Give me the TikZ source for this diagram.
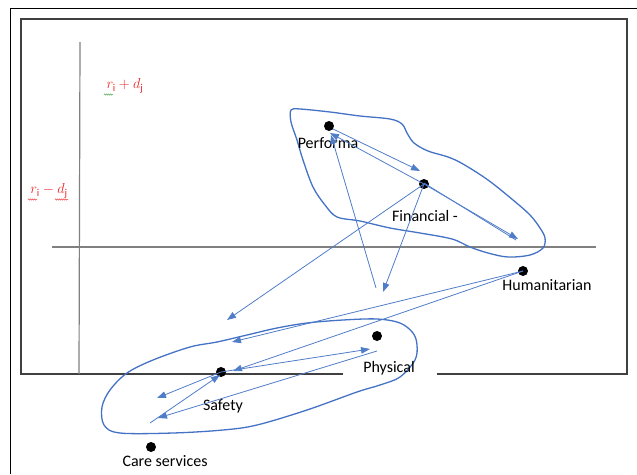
\documentclass[tikz,border=0pt]{standalone}
\usepackage{fontspec}
\setmainfont{Carlito}
\usetikzlibrary{arrows.meta,decorations.pathmorphing}
\definecolor{blob}{RGB}{68,114,196}
\definecolor{arr}{RGB}{80,125,200}
\definecolor{axisgray}{RGB}{128,128,128}
\definecolor{framegray}{RGB}{64,64,64}
\definecolor{lbred}{RGB}{235,40,40}
\definecolor{spellgreen}{RGB}{60,160,60}
\tikzset{
  dot/.style={circle,fill=black,inner sep=0pt,minimum size=10pt},
  lbl/.style={inner sep=0pt,font=\fontsize{16}{19}\selectfont},
  mlbl/.style={inner sep=0pt,text=lbred,font=\fontsize{15}{17}\selectfont},
  arrowline/.style={draw=arr,line width=0.8pt,-{Triangle[length=9pt,width=6.5pt]}},
  plainline/.style={draw=arr,line width=0.8pt},
  blobline/.style={draw=blob,line width=1.3pt},
  wavy/.style={decorate,decoration={snake,segment length=2pt,amplitude=0.6pt},line width=0.5pt}
}
\begin{document}
\begin{tikzpicture}[x=1pt,y=-1pt]
\useasboundingbox (0,0) rectangle (637,474);
% outer frame
\draw[black,line width=1pt] (10,474) -- (10,8) -- (637,8);
% inner frame
\draw[framegray,line width=1.6pt] (343,374) -- (21,374) -- (21,19) -- (627,19) -- (627,374) -- (437,374);
% axes
\draw[axisgray,line width=1.2pt] (80,42) -- (79,374);
\draw[axisgray,line width=1.2pt] (52,247) -- (596,247);
% axis labels
\node[mlbl] (lp) at (125,86) {$r_{\mathrm{i}}+d_{\mathrm{j}}$};
\node[mlbl] (lm) at (49,191) {$r_{\mathrm{i}}-d_{\mathrm{j}}$};
\draw[wavy,spellgreen] (104,94.5) -- (113,94.5);
\draw[wavy,lbred] (28,199.5) -- (37,199.5);
\draw[wavy,lbred] (55,199.5) -- (68,199.5);
% blobs
\draw[blobline] plot[smooth cycle,tension=0.55] coordinates {
 (291,110) (300,109) (330,112) (360,116) (390,119) (402,124) (407,133)
 (414,143) (428,151) (448,157) (463,164) (488,180) (513,200) (530,215)
 (540,228) (545,238) (543,248) (530,255) (508,257) (488,253) (470,247)
 (452,239) (420,233) (390,228) (360,221) (337,217) (325,205) (313,187)
 (303,160) (297,140) (291,122)};
\draw[blobline] plot[smooth cycle,tension=0.55] coordinates {
 (377,319) (400,323) (413,333) (417,345) (415,360) (400,377) (380,385)
 (357,392) (307,410) (257,425) (223,430) (173,433) (120,433) (104,425)
 (102,407) (110,390) (127,373) (153,360) (190,347) (217,342) (247,335)
 (277,328) (307,323) (343,320)};
% points
\node[dot] (P) at (329,126) {};
\node[dot] (F) at (424,184) {};
\node[dot] (H) at (523,271) {};
\node[dot] (Ph) at (377,336) {};
\node[dot] (S) at (221,372) {};
\node[dot] (C) at (151,447) {};
% labels
\node[lbl] (Pl) at (328,143) {Performa};
\node[lbl] (Fl) at (425,216) {Financial -};
\node[lbl] (Hl) at (547,285) {Humanitarian};
\node[lbl] (Phl) at (389,368) {Physical};
\node[lbl] (Sl) at (223,406) {Safety};
\node[lbl] (Cl) at (165,461) {Care services};
% connector end points
\coordinate (pStart) at (333,129);
\coordinate (tF1) at (420,171);
\coordinate (tP1) at (330,133);
\coordinate (tP2) at (331,135);
\coordinate (free1) at (376,288);
\coordinate (t1) at (383,292);
\coordinate (t2) at (227,320);
\coordinate (t3) at (518,239);
\coordinate (t3b) at (516,240);
\coordinate (t4) at (232,342);
\coordinate (t5) at (233,371);
\coordinate (t6) at (370,349);
\coordinate (phEnd) at (377,351);
\coordinate (t7) at (158,418);
\coordinate (t8) at (157,398);
\coordinate (free2) at (150,423);
\coordinate (tS) at (220,375);
% connectors
\draw[arrowline] (pStart) -- (tF1);
\draw[arrowline] (F.center) -- (tP1);
\draw[arrowline] (free1) -- (tP2);
\draw[arrowline] (F.center) -- (t1);
\draw[arrowline] (F.center) -- (t2);
\draw[plainline] ([yshift=1pt]F.center) -- (t3b);
\draw[arrowline] (F.center) -- (t3);
\draw[arrowline] (H.center) -- (t4);
\draw[arrowline] (H.center) -- (t5);
\draw[arrowline] (S.center) -- (t6);
\draw[arrowline] (phEnd) -- (t7);
\draw[arrowline] (S.center) -- (t8);
\draw[arrowline] (free2) -- (tS);
\end{tikzpicture}
\end{document}
